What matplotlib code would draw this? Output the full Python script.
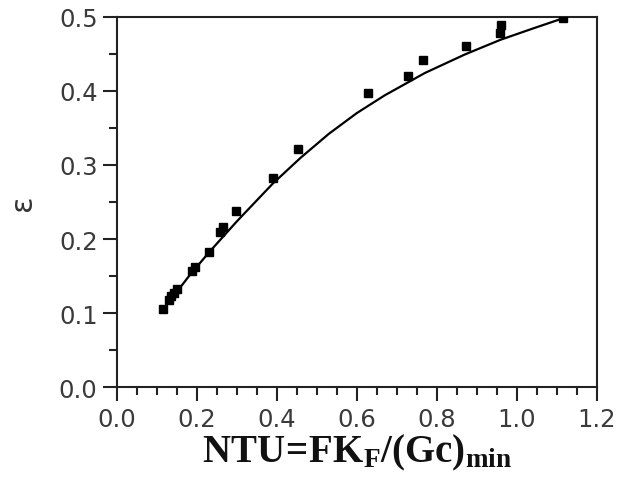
import matplotlib
matplotlib.use("Agg")
import matplotlib.pyplot as plt
from matplotlib.ticker import MultipleLocator, FormatStrFormatter

# measured data (NTU, effectiveness)
ntu_data = [0.115, 0.131, 0.136, 0.143, 0.151, 0.1875, 0.194, 0.229, 0.258, 0.266,
            0.298, 0.3895, 0.454, 0.629, 0.729, 0.7665, 0.8725, 0.958, 0.961, 1.1165]
eps_data = [0.106, 0.118, 0.123, 0.127, 0.132, 0.157, 0.162, 0.183, 0.209, 0.216,
            0.238, 0.282, 0.321, 0.397, 0.420, 0.441, 0.460, 0.478, 0.489, 0.498]

# curve
ntu_curve = [0.13, 0.18, 0.23, 0.30, 0.39, 0.46, 0.53, 0.60, 0.67, 0.77, 0.87, 0.96, 1.04, 1.1165]
eps_curve = [0.115, 0.150, 0.182, 0.224, 0.275, 0.310, 0.342, 0.370, 0.394, 0.424, 0.449, 0.469, 0.484, 0.498]

xticks = [0.0, 0.2, 0.4, 0.6, 0.8, 1.0, 1.2]
yticks = [0.0, 0.1, 0.2, 0.3, 0.4, 0.5]

plt.rcParams['mathtext.fontset'] = 'custom'
plt.rcParams['mathtext.bf'] = 'Liberation Serif:bold'
plt.rcParams['mathtext.rm'] = 'Liberation Serif'

fig = plt.figure(figsize=(6.21, 4.81), dpi=100)
ax = fig.add_axes([117/621, 1 - 388.3/481, (596.7 - 117)/621, (388.3 - 17.7)/481])

ax.plot(ntu_curve, eps_curve, color='black', lw=1.6, zorder=2,
        solid_joinstyle='round')
ax.plot(ntu_data, eps_data, linestyle='none', marker='s', markersize=6,
        color='black', zorder=3)

ax.set_xlim(0, 1.2)
ax.set_ylim(0, 0.5)
ax.set_xticks(xticks)
ax.set_yticks(yticks)
ax.xaxis.set_minor_locator(MultipleLocator(0.05))
ax.yaxis.set_minor_locator(MultipleLocator(0.05))
ax.xaxis.set_major_formatter(FormatStrFormatter('%.1f'))
ax.yaxis.set_major_formatter(FormatStrFormatter('%.1f'))

for s in ax.spines.values():
    s.set_linewidth(1.5)
    s.set_color('#222222')

ax.tick_params(which='major', direction='out', length=10, width=1.5,
               labelsize=17.5, labelcolor='#3a3a3a', color='#222222', pad=4)
ax.tick_params(which='minor', direction='out', length=6, width=1.5, color='#222222')
ax.tick_params(top=False, right=False, which='both')

ax.set_xlabel(r'$\mathbf{NTU\!=\!FK_F/(Gc)_{min}}$', fontsize=28, labelpad=1,
              color='#111111')
ax.set_ylabel('ε', fontsize=22, color='#333333', labelpad=16)

fig.savefig('out.png', dpi=100)
